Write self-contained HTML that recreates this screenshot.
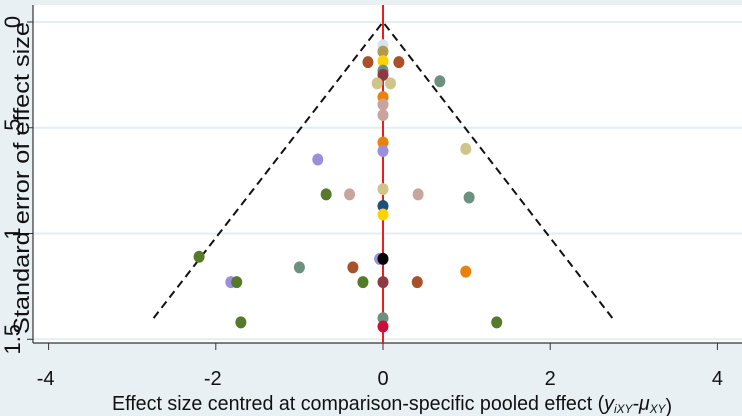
<!DOCTYPE html>
<html><head><meta charset="utf-8"><style>
body{margin:0;background:#e8f0f4;}
svg{display:block;font-family:"Liberation Sans",Arial,sans-serif;}
</style></head><body>
<svg id="chart" width="742" height="416" viewBox="0 0 742 416">
<rect x="0" y="0" width="742" height="416" fill="#e8f0f4"/>
<rect x="33" y="5" width="709" height="338" fill="#ffffff"/>
<g id="grid"></g>
<g id="axes"></g>
<g id="funnel"></g>
<g id="points"></g>
<text transform="translate(29,178) rotate(-90)" text-anchor="middle" font-size="22" fill="#111" textLength="312" lengthAdjust="spacingAndGlyphs">Standard error of effect size</text>
<text x="392" y="410" text-anchor="middle" font-size="20" fill="#111" textLength="560" lengthAdjust="spacingAndGlyphs">Effect size centred at comparison-specific pooled effect (<tspan font-style="italic">y<tspan font-size="12" dy="3">iXY</tspan><tspan dy="-3">-μ</tspan><tspan font-size="12" dy="3">XY</tspan><tspan dy="-3"></tspan></tspan>)</text>
</svg>
<script>
const xTicks=[-4,-2,0,2,4];
const yTicks=[0,0.5,1,1.5];
const yTickLabels=["0",".5","1","1.5"];
const funnelMaxSE=[1.4];
const ptX=[0,0,-0.18,0.19,0,0,0,-0.07,0.09,0.68,0,0,0,0,0,-0.78,0.99,-0.68,-0.40,0,0.42,1.03,0,0,-2.2,-1.0,-0.36,-0.04,0,-1.82,-1.75,-0.24,0,0.41,0.99,-1.70,0,0,1.36];
const ptSE=[0.11,0.14,0.19,0.19,0.185,0.23,0.25,0.29,0.29,0.28,0.355,0.39,0.44,0.57,0.61,0.65,0.60,0.815,0.815,0.79,0.815,0.83,0.87,0.91,1.11,1.16,1.16,1.12,1.12,1.23,1.23,1.23,1.23,1.23,1.18,1.42,1.40,1.44,1.42];
const ptColor=["#d6e4ec","#b09a50","#a9512a","#a9512a","#ffd200","#6e9080","#8e3a44","#cfc58a","#cfc58a","#6e9080","#e8820c","#c8a49c","#c8a49c","#e8820c","#9b8fdb","#9b8fdb","#cfc58a","#557a2a","#c8a49c","#cfc58a","#c8a49c","#6e9080","#1d4f7a","#ffd200","#557a2a","#6e9080","#a9512a","#9b8fdb","#000000","#9b8fdb","#557a2a","#557a2a","#8e3a44","#a9512a","#e8820c","#557a2a","#6e9080","#c8103c","#557a2a"];
const NS="http://www.w3.org/2000/svg";
const X=v=>383+v*83.6;
const Y=v=>22+v*211.5;
function mk(t,a,p){const e=document.createElementNS(NS,t);for(const k in a)e.setAttribute(k,a[k]);p.appendChild(e);return e;}
const grid=document.getElementById('grid'),axes=document.getElementById('axes');
yTicks.forEach((v,i)=>{
  const g=mk('line',{x1:33,x2:742,y1:Y(v),y2:Y(v),stroke:'#e3edf2','stroke-width':2},grid);
  
  
  const t=mk('line',{x1:27,x2:33,y1:Y(v),y2:Y(v),stroke:'#333','stroke-width':1},axes);
  
  
  const l=mk('text',{transform:`translate(20,${Y(v)}) rotate(-90)`,'text-anchor':'middle','font-size':22,fill:'#111'},axes);
  l.textContent=yTickLabels[i];
  
  
});
const ya=mk('line',{x1:33,x2:33,y1:5,y2:343,stroke:'#333','stroke-width':1.2},axes);


const xa=mk('line',{x1:33,x2:742,y1:343,y2:343,stroke:'#333','stroke-width':1.2},axes);


xTicks.forEach(v=>{
  const t=mk('line',{x1:X(v),x2:X(v),y1:343,y2:350,stroke:'#333','stroke-width':1},axes);
  
  
  const l=mk('text',{x:X(v)-(v<0?3:0),y:385,'text-anchor':'middle','font-size':20,fill:'#111'},axes);
  l.textContent=String(v);
  
  
});
const f=document.getElementById('funnel');
const m=funnelMaxSE[0];
const fl=mk('polyline',{points:`${X(-1.96*m)},${Y(m)} ${X(0)},${Y(0)} ${X(1.96*m)},${Y(m)}`,fill:'none',stroke:'#111','stroke-width':2,'stroke-dasharray':'8,5'},f);


const rl=mk('line',{x1:X(0),x2:X(0),y1:5,y2:343,stroke:'#ee1c1c','stroke-width':2},f);


const pg=document.getElementById('points');
ptX.forEach((v,i)=>{
  const c=mk('ellipse',{cx:X(v),cy:Y(ptSE[i]),rx:5.5,ry:6,fill:ptColor[i]},pg);
  
  
});
</script>
</body></html>
